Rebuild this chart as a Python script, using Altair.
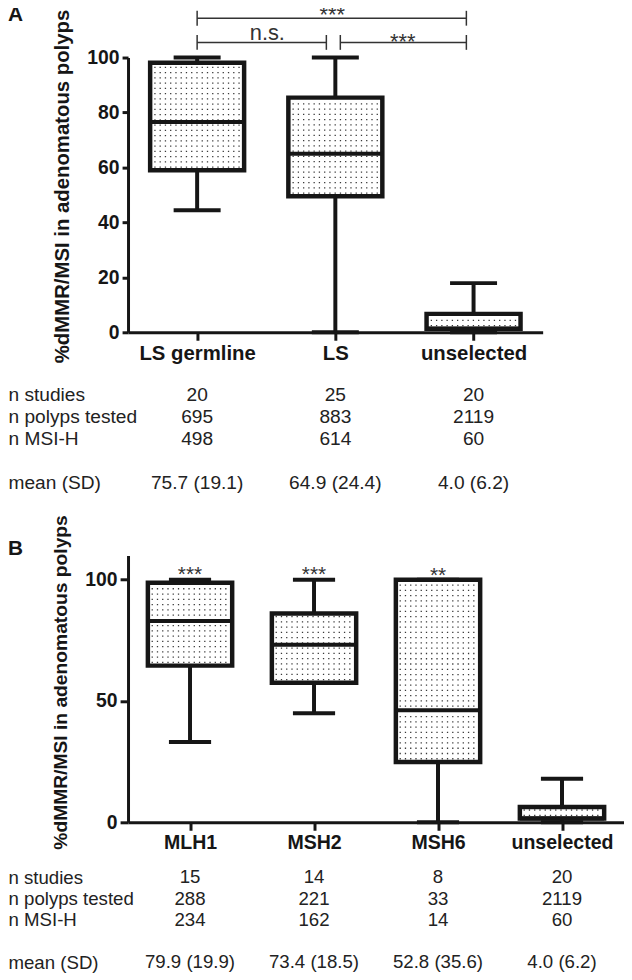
import altair as alt
import pandas as pd

FONT = "Liberation Sans"
INK = "#161616"
TXT = "#222222"

# ---------------- Panel A data ----------------
cats_a = ["LS germline", "LS", "unselected"]
min_a = [44.4, 0.0, 0.0]
q1_a = [59.0, 49.5, 1.3]
med_a = [76.5, 65.0, 1.3]
q3_a = [98.1, 85.4, 6.7]
max_a = [100.0, 100.0, 17.9]

n_studies_a = ["20", "25", "20"]
n_polyps_a = ["695", "883", "2119"]
n_msih_a = ["498", "614", "60"]
mean_sd_a = ["75.7 (19.1)", "64.9 (24.4)", "4.0 (6.2)"]

# significance brackets (x in category index units, y in % units)
brk_x_a = [0.0, 0.0, 1.036]
brk_x2_a = [1.948, 0.935, 1.948]
brk_y_a = [114.3, 105.5, 105.5]
brk_text_a = ["***", "n.s.", "***"]
brk_text_x_a = [0.978, 0.508, 1.488]
brk_text_y_a = [112.8, 106.5, 103.0]

# ---------------- Panel B data ----------------
cats_b = ["MLH1", "MSH2", "MSH6", "unselected"]
min_b = [33.1, 45.0, 0.0, 0.0]
q1_b = [64.6, 57.5, 24.9, 1.6]
med_b = [83.0, 73.2, 46.2, 1.6]
q3_b = [98.8, 86.1, 100.0, 6.3]
max_b = [100.0, 100.0, 100.0, 18.0]
sig_b = ["***", "***", "**", ""]
sig_y_b = [99.3, 99.3, 99.0, 99.0]

n_studies_b = ["15", "14", "8", "20"]
n_polyps_b = ["288", "221", "33", "2119"]
n_msih_b = ["234", "162", "14", "60"]
mean_sd_b = ["79.9 (19.9)", "73.4 (18.5)", "52.8 (35.6)", "4.0 (6.2)"]

row_names = ["n studies", "n polyps tested", "n MSI-H", "mean (SD)"]
row_slots = [0, 1, 2, 4]
YTITLE = "%dMMR/MSI in adenomatous polyps"


def label_expr(names, keys):
    parts = " : ".join(f"datum.value == {k} ? '{n}'" for k, n in zip(keys, names))
    return parts + " : ''"


def box_panel(cats, mn, q1, md, q3, mx, ymax, yvals, dot_step,
              title_size, label_size, tick_label_size, title_y, ytick, xlabel_pad):
    n = len(cats)
    df = pd.DataFrame(dict(i=list(range(n)), cat=cats, mn=mn, q1=q1, md=md, q3=q3, mx=mx))
    xs = alt.Scale(domain=[-0.5, n - 0.5], nice=False, zero=False)
    ys = alt.Scale(domain=[0, ymax], nice=False, zero=False)
    xaxis = alt.Axis(values=list(range(n)), labelExpr=label_expr(cats, range(n)), title=None,
                     grid=False, domainColor=INK, domainWidth=3, tickColor=INK, tickWidth=3,
                     tickSize=8, labelFont=FONT, labelFontSize=label_size,
                     labelFontWeight="bold", labelColor=INK, labelPadding=xlabel_pad)
    yaxis = alt.Axis(values=yvals, title=YTITLE, grid=False, domainColor=INK, domainWidth=3,
                     tickColor=INK, tickWidth=3, tickSize=ytick, labelFont=FONT,
                     labelFontSize=tick_label_size, labelFontWeight="bold", labelColor=INK,
                     labelPadding=3, titleFont=FONT, titleFontSize=title_size,
                     titleFontWeight="bold", titleColor=INK, titlePadding=14, titleY=title_y)

    def X(f):
        return alt.X(f, scale=xs, axis=xaxis)

    def Y(f):
        return alt.Y(f, scale=ys, axis=yaxis)

    base = alt.Chart(df).transform_calculate(
        xl="datum.i - 0.34", xr="datum.i + 0.34",
        dl="datum.i - 0.31", dr="datum.i + 0.31",
        cl="datum.i - 0.17", cr="datum.i + 0.17")

    whisk_hi = base.mark_rule(color=INK, strokeWidth=4).encode(x=X("i:Q"), y=Y("q3:Q"), y2="mx:Q")
    whisk_lo = base.mark_rule(color=INK, strokeWidth=4).encode(x=X("i:Q"), y=Y("mn:Q"), y2="q1:Q")
    cap_hi = base.mark_rule(color=INK, strokeWidth=4).encode(x=X("cl:Q"), x2="cr:Q", y=Y("mx:Q"))
    cap_lo = base.mark_rule(color=INK, strokeWidth=4).encode(x=X("cl:Q"), x2="cr:Q", y=Y("mn:Q"))
    box = base.mark_rect(fill="white", stroke=INK, strokeWidth=4.5).encode(
        x=X("xl:Q"), x2="xr:Q", y=Y("q1:Q"), y2="q3:Q")
    dots = base.transform_calculate(
        ys=f"sequence(datum.q1 + {0.6 * dot_step}, datum.q3 - {0.35 * dot_step}, {dot_step})"
    ).transform_flatten(["ys"]).mark_rule(
        color="#3a3a3a", strokeWidth=1.3, strokeDash=[1.3, 4.0]).encode(
        x=X("dl:Q"), x2="dr:Q", y=Y("ys:Q"))
    median = base.mark_rule(color=INK, strokeWidth=4).encode(
        x=X("xl:Q"), x2="xr:Q", y=Y("md:Q"))
    layers = [whisk_hi, whisk_lo, box, dots, median, cap_hi, cap_lo]
    return layers, X, Y


def table(cats, cols, width, height, first_px, step_px, fsize):
    recs = []
    for slot, vals in zip(row_slots, cols):
        for i, v in enumerate(vals):
            recs.append(dict(slot=slot, i=i, val=v))
    df = pd.DataFrame(recs)
    n = len(cats)
    lo = -first_px / step_px
    hi = (height - first_px) / step_px
    return alt.Chart(df).mark_text(font=FONT, fontSize=fsize, color=TXT, baseline="middle").encode(
        x=alt.X("i:Q", scale=alt.Scale(domain=[-0.5, n - 0.5], nice=False, zero=False), axis=None),
        y=alt.Y("slot:Q", scale=alt.Scale(domain=[lo, hi], nice=False, zero=False, reverse=True),
                axis=alt.Axis(values=row_slots, labelExpr=label_expr(row_names, row_slots),
                              title=None, domain=False, ticks=False, tickSize=0, grid=False,
                              labelAlign="left", labelPadding=121, labelFont=FONT,
                              labelFontSize=fsize, labelColor=TXT, labelBaseline="middle")),
        text="val:N",
    ).properties(width=width, height=height)


def letter(ch, yv):
    return alt.Chart(pd.DataFrame({"t": [ch]})).mark_text(
        font=FONT, fontSize=21, fontWeight="bold", color=INK, align="left",
        baseline="alphabetic").encode(text="t:N", x=alt.value(-121), y=alt.value(yv))


# ---------- Panel A ----------
layers_a, XA, YA = box_panel(cats_a, min_a, q1_a, med_a, q3_a, max_a, 100,
                             [0, 20, 40, 60, 80, 100], 1.91, 20.5, 20.5, 19.5, 129.5, 6, 3.5)
brk_df = pd.DataFrame(dict(x=brk_x_a, x2=brk_x2_a, y=brk_y_a))
brk_lines = alt.Chart(brk_df).mark_rule(color="#333333", strokeWidth=1.5).encode(
    x=XA("x:Q"), x2="x2:Q", y=YA("y:Q"))
brk_l = alt.Chart(brk_df).transform_calculate(ya="datum.y - 2.7", yb="datum.y + 2.7").mark_rule(
    color="#333333", strokeWidth=1.5).encode(x=XA("x:Q"), y=YA("ya:Q"), y2="yb:Q")
brk_r = alt.Chart(brk_df).transform_calculate(ya="datum.y - 2.7", yb="datum.y + 2.7").mark_rule(
    color="#333333", strokeWidth=1.5).encode(x=XA("x2:Q"), y=YA("ya:Q"), y2="yb:Q")
brk_txt = alt.Chart(pd.DataFrame(dict(t=brk_text_a, x=brk_text_x_a, y=brk_text_y_a))).mark_text(
    font=FONT, fontSize=22, color="#333333", baseline="alphabetic").encode(
    x=XA("x:Q"), y=YA("y:Q"), text="t:N")

panel_a = alt.layer(*layers_a, brk_lines, brk_l, brk_r, brk_txt, letter("A", -37)).properties(
    width=418, height=277)

table_a = table(cats_a, [n_studies_a, n_polyps_a, n_msih_a, mean_sd_a], 418, 225, 63, 22.2, 19.3)

# ---------- Panel B ----------
layers_b, XB, YB = box_panel(cats_b, min_b, q1_b, med_b, q3_b, max_b, 110,
                             [0, 50, 100], 2.17, 19.4, 19.7, 19.5, 127.5, 8, 2)
sig_txt = alt.Chart(pd.DataFrame(dict(t=sig_b, i=list(range(4)), y=sig_y_b))).mark_text(
    font=FONT, fontSize=21, color="#333333", baseline="alphabetic").encode(
    x=XB("i:Q"), y=YB("y:Q"), text="t:N")
panel_b = alt.layer(*layers_b, sig_txt, letter("B", 0)).properties(width=500, height=269)

table_b = table(cats_b, [n_studies_b, n_polyps_b, n_msih_b, mean_sd_b], 500, 148, 55.6, 21.4, 18.8)

chart = alt.vconcat(panel_a, table_a, panel_b, table_b, spacing=0, bounds="flush").properties(
    padding={"top": -8, "left": 0, "right": 0, "bottom": 0}).configure_view(stroke=None)

chart.save("out.html", embed_options={"renderer": "svg", "actions": False})
